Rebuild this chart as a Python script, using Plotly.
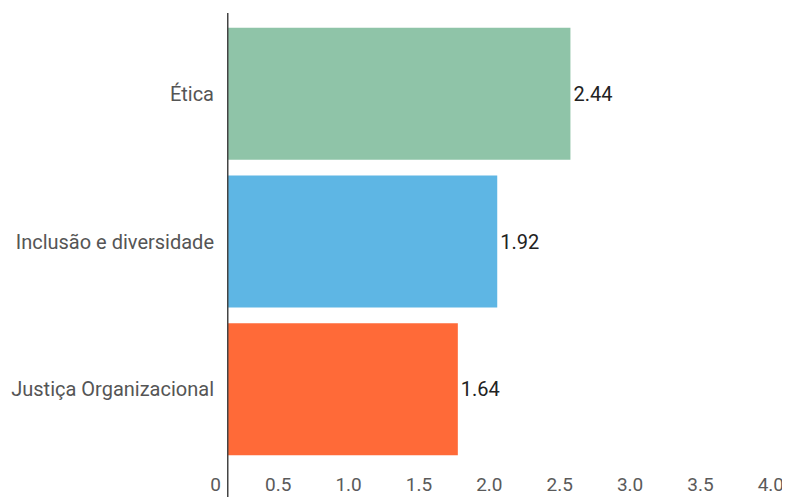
import plotly.graph_objects as go

categories = ["Ética", "Inclusão e diversidade", "Justiça Organizacional"]
values = [2.44, 1.92, 1.64]
colors = ["#8FC4A8", "#5EB6E4", "#FF6A38"]
tick_vals = [0, 0.5, 1.0, 1.5, 2.0, 2.5, 3.0, 3.5, 4.0]
tick_text = ["0", "0.5", "1.0", "1.5", "2.0", "2.5", "3.0", "3.5", "4.0"]

fig = go.Figure()
fig.add_trace(go.Bar(
    y=categories, x=values, orientation="h",
    marker=dict(color=colors, line=dict(width=0)),
    text=[f"{v:.2f}" for v in values], textposition="outside",
    textfont=dict(family="Roboto", size=20, color="#222222"),
    cliponaxis=False, hoverinfo="skip",
))

fig.add_shape(type="line", xref="x", yref="paper", x0=0, x1=0, y0=-0.08, y1=1.016,
              line=dict(color="#444444", width=3), layer="above")

# page body adds an 8px margin, so the figure is 782x489
fig.update_layout(
    width=782, height=489,
    margin=dict(l=219, r=0, t=12, b=34),
    paper_bgcolor="white", plot_bgcolor="white",
    showlegend=False, bargap=0.106,
    font=dict(family="Roboto", size=20, color="#555555"),
    xaxis=dict(range=[0, 4.0], tickvals=tick_vals, ticktext=tick_text,
               showgrid=False, zeroline=False, showline=False, ticks="",
               automargin=False, ticklabelposition="outside left",
               ticklabelshift=-6, ticklabelstandoff=8,
               tickfont=dict(family="Roboto", size=19, color="#5a5a5a")),
    yaxis=dict(categoryorder="array", categoryarray=categories[::-1],
               showgrid=False, zeroline=False, showline=False, ticks="",
               automargin=False, ticklabelstandoff=12,
               tickfont=dict(family="Roboto", size=20, color="#555555")),
)

fig.write_html("out.html")
